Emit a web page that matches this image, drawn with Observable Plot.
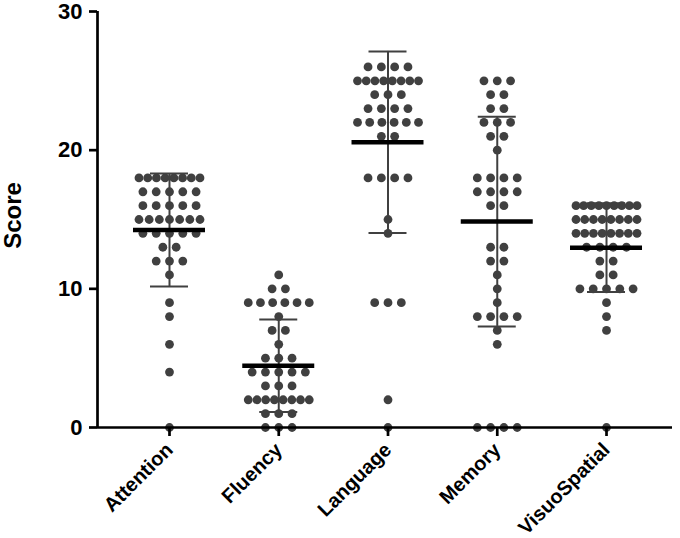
<!DOCTYPE html>
<html><head><meta charset="utf-8">
<script src="https://cdn.jsdelivr.net/npm/d3@7"></script>
<script src="https://cdn.jsdelivr.net/npm/@observablehq/plot@0.6"></script>
<style>
  body { margin: 0; background: #fff; }
  #chart svg { display: block; }
</style>
</head><body><div id="chart"></div>
<script>
// Categories and raw scores
const categories = ["Attention", "Fluency", "Language", "Memory", "VisuoSpatial"];
const attention = [18,18,18,18,18,18,18,18, 17,17,17,17,17, 16,16,16,16,16, 15,15,15,15,15,15,15, 14,14,14,14,14, 13,13, 12,12,12, 11, 9, 8, 6, 4, 0];
const fluency = [11, 10,10, 9,9,9,9,9,9, 8, 7,7, 6, 5,5,5, 4,4,4,4,4, 3,3,3, 2,2,2,2,2,2,2,2, 1,1,1, 0,0,0];
const language = [26,26,26,26, 25,25,25,25,25,25,25,25, 24,24,24, 23,23,23,23, 22,22,22,22,22,22, 21,21, 18,18,18,18, 15, 14, 9,9,9, 2, 0];
const memory = [25,25,25, 24,24, 23,23, 22,22,22, 21,21, 20, 18,18,18,18, 17,17,17,17, 16,16, 13,13, 12,12, 11, 10, 9, 8,8,8,8, 7, 6, 0,0,0,0];
const visuospatial = [16,16,16,16,16,16,16,16,16, 15,15,15,15,15,15,15,15, 14,14,14,14,14,14,14,14, 13,13,13,13, 12,12, 11,11, 10,10,10,10,10, 9, 8, 7, 0];
// Mean and SD bars
const means = [14.24, 4.45, 20.57, 14.85, 12.97];
const sds = [4.07, 3.34, 6.55, 7.56, 3.2];
const yTicks = [0, 10, 20, 30];

const series = [attention, fluency, language, memory, visuospatial];

const W = 680, H = 538, mL = 97, mR = 8, mT = 11, mB = 111;
const xDomain = [-0.659, 4.604];
const unitPx = (W - mL - mR) / (xDomain[1] - xDomain[0]);

// scatter-dot layout: dots of equal value placed side by side, centred on the category
function swarm(values, ci) {
  const groups = d3.group(values, v => v);
  const out = [];
  for (const [v, arr] of groups) {
    const n = arr.length;
    const s = n > 1 ? Math.min(13.3, 61 / (n - 1)) : 0;
    arr.forEach((_, i) => out.push({cat: categories[ci], score: v, x: ci + (i - (n - 1) / 2) * s / unitPx}));
  }
  return out;
}
const points = series.flatMap((vals, ci) => swarm(vals, ci));
const summary = categories.map((c, i) => ({ci: i, mean: means[i], lo: means[i] - sds[i], hi: means[i] + sds[i]}));
const catIndex = categories.map((c, i) => i);

const capHalf = 19 / unitPx, meanHalf = 36 / unitPx;
const font = "'Liberation Sans', Arial, Helvetica, sans-serif";

const chart = Plot.plot({
  width: W, height: H,
  marginLeft: mL, marginRight: mR, marginTop: mT, marginBottom: mB,
  style: {fontFamily: font, color: "#000", background: "#fff"},
  x: {type: "linear", domain: xDomain, axis: null},
  y: {domain: [0, 30], axis: null},
  marks: [
    Plot.dot(points, {x: "x", y: "score", r: 4.4, fill: "#404040", stroke: "none"}),
    Plot.ruleX(summary, {x: "ci", y1: "lo", y2: "hi", stroke: "#404040", strokeWidth: 2}),
    Plot.ruleY(summary, {y: "hi", x1: d => d.ci - capHalf, x2: d => d.ci + capHalf, stroke: "#404040", strokeWidth: 2}),
    Plot.ruleY(summary, {y: "lo", x1: d => d.ci - capHalf, x2: d => d.ci + capHalf, stroke: "#404040", strokeWidth: 2}),
    Plot.ruleY(summary, {y: "mean", x1: d => d.ci - meanHalf, x2: d => d.ci + meanHalf, stroke: "#000", strokeWidth: 4.5}),
    Plot.ruleY([0], {stroke: "#000", strokeWidth: 2.7}),
    Plot.ruleX([xDomain[0]], {y1: 0, y2: 30, stroke: "#000", strokeWidth: 2.7}),
    Plot.axisY(yTicks, {tickSize: 8, tickPadding: 7, strokeWidth: 2.7, fontSize: 22, fontWeight: "bold", label: null}),
    Plot.axisX(catIndex, {tickSize: 9, strokeWidth: 2.7, tickFormat: () => null, label: null}),
    Plot.text(catIndex, {x: d => d, text: d => categories[d], frameAnchor: "bottom", textAnchor: "end", lineAnchor: "middle",
      rotate: -45, dx: 0, dy: 19, fontSize: 20, fontWeight: "bold", fill: "#000"}),
    Plot.text(["Score"], {frameAnchor: "left", textAnchor: "middle", dx: -84, dy: -4, rotate: -90, fontSize: 24, fontWeight: "bold", fill: "#000"})
  ]
});
document.getElementById("chart").appendChild(chart);
</script>
</body></html>
